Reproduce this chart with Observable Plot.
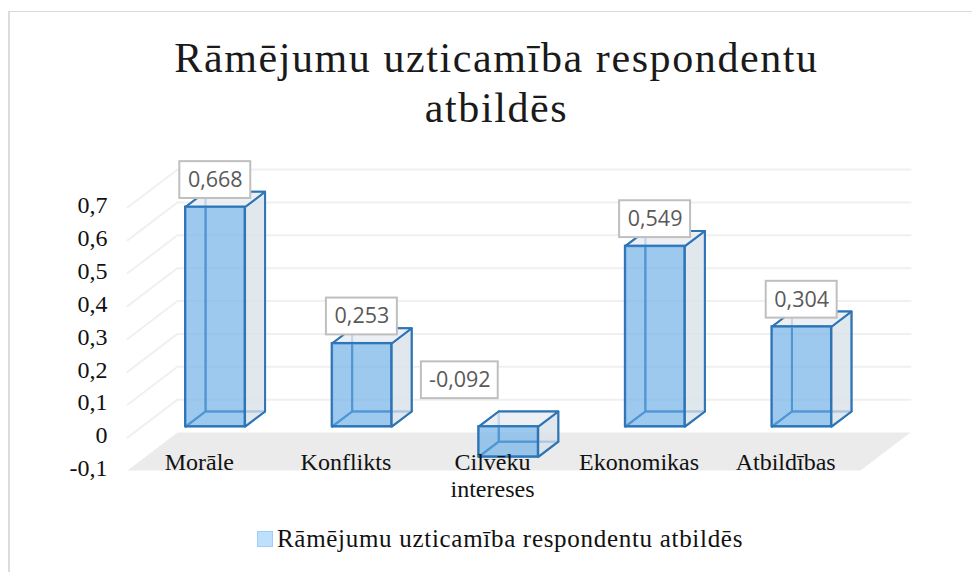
<!DOCTYPE html>
<html><head><meta charset="utf-8">
<script src="https://cdn.jsdelivr.net/npm/d3@7"></script>
<script src="https://cdn.jsdelivr.net/npm/@observablehq/plot@0.6"></script>
<style>
html,body{margin:0;padding:0;background:#fff;width:972px;height:572px;overflow:hidden}
#frame{position:absolute;left:8px;top:11px;width:970px;height:570px;border-top:1.5px solid #d9d9d9;border-left:2px solid #dcdcdc;box-sizing:border-box}
#title{position:absolute;left:0;top:33px;width:993px;text-align:center;font:42px/50px "Liberation Serif",serif;letter-spacing:1.6px;color:#1a1a1a}
#chart{position:absolute;left:0;top:135px}
#legend{position:absolute;left:257px;top:525px;display:flex;align-items:center;font:25px/28px "Liberation Serif",serif;letter-spacing:.7px;color:#111}
#legend i{display:block;width:14px;height:14px;background:#bde0fb;border:1.5px solid #9fcdf5;margin-right:4px}
</style></head><body>
<div id="frame"></div>
<div id="title">Rāmējumu uzticamība respondentu<br>atbildēs</div>
<div id="chart"></div>
<div id="legend"><i></i><span>Rāmējumu uzticamība respondentu atbildēs</span></div>
<script>
const categories = ["Morāle","Konflikts","Cilvēku\nintereses","Ekonomikas","Atbildības"];
const values = [0.668,0.253,-0.092,0.549,0.304];
const yTicks = [-0.1,0,0.1,0.2,0.3,0.4,0.5,0.6,0.7];

const comma = v => String(v).replace(".",",");
const DX = 0.341, DY = 0.1155;            // full floor depth, in data units
const P = (x,v,d) => ({x:x+d*DX, y:v+d*DY});
const D0 = 0.29, D1 = 0.69, HW = 0.203;

const bars = categories.map((c,i)=>({c,i,v:values[i],cx:i+0.5}));
function poly(rows,id,pts){pts.concat([pts[0]]).forEach(p=>rows.push({...p,id}));}
const backFace=[],leftFace=[],bottomFace=[],rightFace=[],topFace=[];
bars.forEach(b=>{
  const a=b.cx-HW, z=b.cx+HW, lo=Math.min(0,b.v), hi=Math.max(0,b.v);
  poly(backFace,b.i,[P(a,lo,D1),P(z,lo,D1),P(z,hi,D1),P(a,hi,D1)]);
  poly(leftFace,b.i,[P(a,lo,D0),P(a,lo,D1),P(a,hi,D1),P(a,hi,D0)]);
  poly(bottomFace,b.i,[P(a,lo,D0),P(z,lo,D0),P(z,lo,D1),P(a,lo,D1)]);
  poly(rightFace,b.i,[P(z,lo,D0),P(z,lo,D1),P(z,hi,D1),P(z,hi,D0)]);
  poly(topFace,b.i,[P(a,hi,D0),P(z,hi,D0),P(z,hi,D1),P(a,hi,D1)]);
});
const floorFace=[]; poly(floorFace,0,[P(0,-0.1,0),P(5,-0.1,0),P(5,-0.1,1),P(0,-0.1,1)]);
const grid=[];
yTicks.filter(t=>t>=0).forEach(t=>{[P(0,t,0),P(0,t,1),P(5,t,1)].forEach(p=>grid.push({...p,id:t}));});

const BLUE="#2e75b6";
const face=(rows,fill,op)=>Plot.line(rows,{x:"x",y:"y",z:"id",curve:"linear",fill,fillOpacity:op,stroke:BLUE,strokeWidth:2,strokeLinejoin:"round"});
const boxes=bars.map(b=>{
  const neg=b.v<0;
  const cx=neg?b.cx-0.332+DX*D0:b.cx+DX*D0;
  const cy=neg?b.v+0.092+DY*D0+0.141:b.v+DY*D0+0.082;
  const hw=neg?0.262:0.242;
  return {...b,cx2:cx,cy,hw,label:comma(b.v.toFixed(3))};
});

const plot=Plot.plot({
  width:972,height:375,marginLeft:127,marginRight:112,marginTop:0,marginBottom:0,
  style:{fontFamily:"'Liberation Serif',serif",fontSize:"24px",color:"#111",background:"transparent",overflow:"visible"},
  x:{type:"linear",domain:[0,5],range:[127,860],axis:null},
  y:{type:"linear",domain:[-0.1,0.7],range:[335,72],axis:null},
  marks:[
    Plot.line(grid,{x:"x",y:"y",z:"id",stroke:"#f0f0f0",strokeWidth:2}),
    Plot.line(floorFace,{x:"x",y:"y",z:"id",fill:"#ebebeb",stroke:"none"}),
    Plot.axisY({ticks:yTicks,tickFormat:comma,tickSize:0,tickPadding:20,dy:-2,fontVariant:"normal",fontSize:24,fill:"#111",label:null}),
    face(backFace,"#dbe3ea",0.35),
    face(leftFace,"#dbe3ea",0.35),
    face(bottomFace,"#dbe3ea",0.35),
    face(rightFace,"#dbe3ea",0.75),
    face(topFace,"#eaeff4",0.8),
    Plot.rect(bars,{x1:b=>b.cx-HW+DX*D0,x2:b=>b.cx+HW+DX*D0,y1:b=>DY*D0,y2:b=>b.v+DY*D0,fill:"#66ace9",fillOpacity:0.6,stroke:BLUE,strokeWidth:2}),
    Plot.rect(boxes,{x1:b=>b.cx2-b.hw,x2:b=>b.cx2+b.hw,y1:b=>b.cy-0.056,y2:b=>b.cy+0.056,fill:"#fff",stroke:"#bfbfbf",strokeWidth:2}),
    Plot.text(boxes,{x:"cx2",y:"cy",text:"label",fontFamily:"'Open Sans',sans-serif",fontSize:21.5,fill:"#595959"}),
    Plot.text(bars,{x:"cx",y:()=>-0.1,text:"c",lineAnchor:"top",dy:-20,dx:-1.5,fontSize:24,lineHeight:1.13,fill:"#111"})
  ]
});
document.getElementById("chart").appendChild(plot);
</script></body></html>
